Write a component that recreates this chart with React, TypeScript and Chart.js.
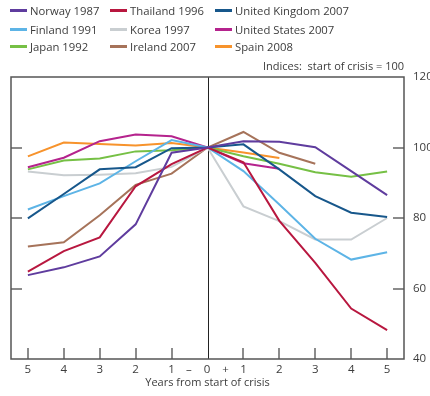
import React, { useEffect, useRef } from "react";
import { Chart, registerables } from "chart.js";

Chart.register(...registerables);

const years = [-5, -4, -3, -2, -1, 0, 1, 2, 3, 4, 5];
const xTickLabels = ["5", "4", "3", "2", "1", "–    0    +", "1", "2", "3", "4", "5"];
const yTicks = [40, 60, 80, 100, 120];

const norway1987 = [63.8, 66, 69.1, 78.2, 98.5, 100, 101.8, 101.6, 100.1, 93.3, 86.5];
const thailand1996 = [64.8, 70.6, 74.5, 89, 95.3, 100, 95.8, 79.2, 67.3, 54.3, 48.2];
const uk2007 = [79.9, 86.8, 93.8, 94.4, 99.8, 100, 100.9, 93.8, 86.2, 81.5, 80.3];
const finland1991 = [82.4, 86.2, 89.8, 96.1, 102.1, 100, 93.3, 83.8, 74.1, 68.2, 70.3];
const korea1997 = [93.2, 92.1, 92.3, 92.7, 94.5, 100, 83.3, 79.1, 73.9, 73.9, 80];
const us2007 = [94.4, 97.1, 101.8, 103.7, 103.2, 100, 95.5, 94, null, null, null];
const japan1992 = [93.8, 96.3, 96.9, 98.9, 99.2, 100, 97.5, 95.4, 93, 91.7, 93.2];
const ireland2007 = [71.9, 73.1, 80.8, 89.4, 92.6, 100, 104.4, 98.5, 95.4, null, null];
const spain2008 = [97.5, 101.4, 101, 100.6, 101.3, 100, 98.6, 97, null, null, null];

const seriesNames = [
  "Norway 1987", "Thailand 1996", "United Kingdom 2007",
  "Finland 1991", "Korea 1997", "United States 2007",
  "Japan 1992", "Ireland 2007", "Spain 2008",
];
const seriesValues = [
  norway1987, thailand1996, uk2007,
  finland1991, korea1997, us2007,
  japan1992, ireland2007, spain2008,
];
const seriesColors = [
  "#5f3c9e", "#b8173f", "#17578b",
  "#5db4e6", "#c9ced1", "#b5238d",
  "#76c045", "#a6735a", "#f7932c",
];

const FONT = "'Open Sans', 'Noto Sans', sans-serif";
const TEXT = "#3c3c3c";

const framePlugin = {
  id: "frame",
  beforeDatasetsDraw(chart: any) {
    const { ctx, chartArea: a, scales } = chart;
    const x = scales.x;
    const y = scales.y;
    ctx.save();
    const x0 = Math.round(x.getPixelForValue(0)) + 0.5;
    ctx.strokeStyle = "#222";
    ctx.lineWidth = 1;
    ctx.beginPath();
    ctx.moveTo(x0, a.top);
    ctx.lineTo(x0, a.bottom);
    ctx.stroke();

    ctx.strokeStyle = "#8c8c8c";
    ctx.lineWidth = 2;
    years.forEach((v) => {
      if (v === 0) return;
      const px = Math.round(x.getPixelForValue(v));
      ctx.beginPath();
      ctx.moveTo(px, a.bottom - 11);
      ctx.lineTo(px, a.bottom);
      ctx.stroke();
    });

    ctx.strokeStyle = "#666";
    ctx.lineWidth = 1.5;
    yTicks.forEach((v) => {
      if (v === 40 || v === 120) return;
      const py = Math.round(y.getPixelForValue(v));
      ctx.beginPath();
      ctx.moveTo(a.left, py);
      ctx.lineTo(a.left + 11, py);
      ctx.moveTo(a.right - 11, py);
      ctx.lineTo(a.right, py);
      ctx.stroke();
    });
    ctx.restore();
  },
  afterDraw(chart: any) {
    const { ctx, chartArea: a, scales } = chart;
    ctx.save();
    ctx.strokeStyle = "#555";
    ctx.lineWidth = 1.5;
    ctx.strokeRect(a.left, a.top, a.right - a.left, a.bottom - a.top);

    ctx.fillStyle = TEXT;
    ctx.font = `11px ${FONT}`;
    ctx.textBaseline = "middle";
    ctx.textAlign = "right";
    ctx.fillText("Indices:  start of crisis = 100", a.right, 67);
    ctx.textAlign = "center";
    ctx.fillText("Years from start of crisis", scales.x.getPixelForValue(0), 383);
    ctx.restore();
  },
};

export default function App() {
  const ref = useRef<HTMLCanvasElement | null>(null);

  useEffect(() => {
    if (!ref.current) return;
    const chart = new Chart(ref.current, {
      type: "line",
      data: {
        datasets: seriesNames.map((name, i) => ({
          label: name,
          data: years.map((yr, j) => ({ x: yr, y: seriesValues[i][j] })),
          borderColor: seriesColors[i],
          backgroundColor: seriesColors[i],
          borderWidth: 2,
          pointRadius: 0,
          tension: 0,
          spanGaps: false,
          fill: false,
        })),
      },
      options: {
        animation: false,
        responsive: false,
        layout: { padding: { top: 77, left: 11, right: 0, bottom: 0 } },
        plugins: { legend: { display: false }, tooltip: { enabled: false } },
        scales: {
          x: {
            type: "linear",
            min: -5.47,
            max: 5.47,
            grid: { display: false, drawTicks: false },
            border: { display: false },
            afterBuildTicks: (s: any) => {
              s.ticks = years.map((v) => ({ value: v }));
            },
            afterFit: (s: any) => {
              s.height = 37;
            },
            ticks: {
              autoSkip: false,
              maxRotation: 0,
              color: TEXT,
              padding: 4,
              font: { family: FONT, size: 11.5 },
              callback: (v: any) => xTickLabels[Math.round(Number(v)) + 5] ?? "",
            },
          },
          y: {
            position: "right",
            min: 40,
            max: 120,
            grid: { display: false, drawTicks: false },
            border: { display: false },
            afterFit: (s: any) => {
              s.width = 26;
            },
            ticks: {
              stepSize: 20,
              color: TEXT,
              padding: 9,
              font: { family: FONT, size: 11.5 },
            },
          },
        },
      },
      plugins: [framePlugin],
    });
    return () => chart.destroy();
  }, []);

  const legendCols = [10, 110, 215];
  const legendRows = [10, 29, 46];

  return (
    <div style={{ position: "absolute", left: 0, top: 0, width: 430, height: 396, background: "#fff", fontFamily: FONT }}>
      <canvas ref={ref} width={430} height={396} style={{ position: "absolute", left: 0, top: 0 }} />
      {seriesNames.map((name, i) => {
        const col = i % 3;
        const row = Math.floor(i / 3);
        return (
          <div
            key={name}
            style={{
              position: "absolute",
              left: legendCols[col],
              top: legendRows[row] - 9,
              height: 18,
              display: "flex",
              alignItems: "center",
              fontSize: 11.3,
              color: TEXT,
              whiteSpace: "nowrap",
            }}
          >
            <span style={{ display: "inline-block", width: 17, height: 3, background: seriesColors[i], marginRight: 3 }} />
            <span>{name}</span>
          </div>
        );
      })}
    </div>
  );
}
